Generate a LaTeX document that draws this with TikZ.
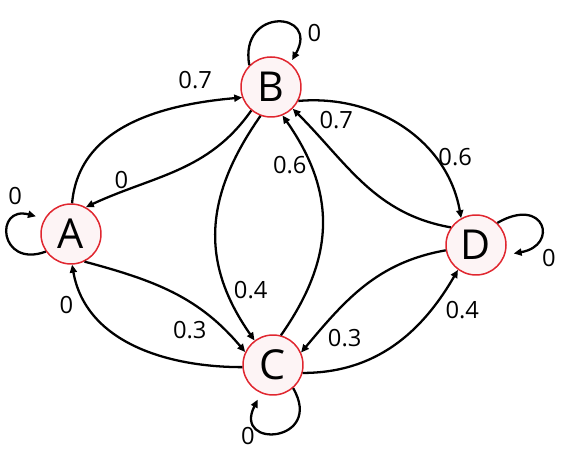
\documentclass[tikz,border=0pt]{standalone}
\usepackage{fontspec}
\setmainfont{Open Sans}
\usepackage{tikz}
\usetikzlibrary{arrows.meta}
\definecolor{stred}{HTML}{E0262F}

\begin{document}
\begin{tikzpicture}[x=0.02cm,y=0.02cm,
  st/.style={circle, draw=stred, fill=stred!5, line width=0.85pt, minimum size=1.2cm, inner sep=0pt, font=\fontsize{23.5}{23.5}\selectfont},
  link/.style={-{Triangle[length=4.5pt,width=4pt]}, line width=1.3pt},
  prob/.style={font=\fontsize{13.5}{13.5}\selectfont, inner sep=1.5pt}]
\useasboundingbox (0,0) rectangle (564,462);
\node[st] (A) at (71,228) {A};
\node[st] (B) at (271,375) {B};
\node[st] (C) at (273,97) {C};
\node[st] (D) at (476,217) {D};
% transitions between states
\draw[link] (A.88) to[out=85,in=185] node[prob,pos=0.8,above=6pt] {0.7} (B.200);
\draw[link] (B.230) to[out=235,in=25] node[prob,pos=0.82,above] {0} (A.61);
\draw[link] (B.250) to[out=235,in=125,looseness=1.1] node[prob,pos=0.78,right=2pt] {0.4} (C.127);
\draw[link] (C.75) to[out=55,in=-55,looseness=1.1] node[prob,pos=0.78,left] {0.6} (B.-68);
\draw[link] (B.-27) to[out=5,in=100] node[prob,pos=0.7,right] {0.6} (D.119);
\draw[link] (D.145) to[out=170,in=-45] node[prob,pos=0.85,above right] {0.7} (B.-45);
\draw[link] (A.-64) to[out=-15,in=130] node[prob,pos=0.75,below left] {0.3} (C.155);
\draw[link] (C.184) to[out=180,in=-80] node[prob,pos=0.8,left=6pt] {0} (A.-88);
\draw[link] (D.190) to[out=190,in=50] node[prob,pos=0.82,below right] {0.3} (C.24);
\draw[link] (C.-15) to[out=0,in=-120] node[prob,pos=0.8,right=4pt,yshift=-3pt] {0.4} (D.234);
% self loops
\draw[link, shorten >=5pt] (A.215) .. controls +(200:50) and +(165:52) .. (A.150) node[prob,pos=0.75,above=7pt,xshift=-1pt] {0};
\draw[link, shorten >=2pt] (B.135) .. controls +(100:60) and +(60:60) .. (B.51) node[prob,pos=0.75,right=5pt] {0};
\draw[link, shorten >=5pt] (D.46) .. controls +(30:55) and +(10:55) .. (D.-19) node[prob,pos=0.8,below right,xshift=5pt] {0};
\draw[link, shorten >=4pt] (C.-49) .. controls +(-60:63) and +(243:63) .. (C.247) node[prob,pos=0.75,below left] {0};
\end{tikzpicture}
\end{document}
